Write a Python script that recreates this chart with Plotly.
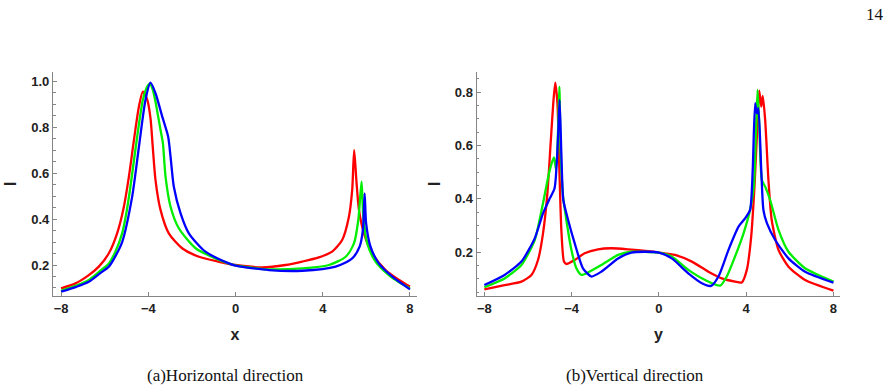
import plotly.graph_objects as go

# ---------------- data: (a) horizontal direction ----------------
h_red_x = [-8, -7.34, -6.73, -6.27, -5.81, -5.43, -5.12, -4.89, -4.66, -4.43, -4.25, -4.05, -3.9, -3.8, -3.67,
           -3.44, -3.06, -2.45, -1.68, -0.8, 0, 1.22, 2.29, 3.06, 3.82, 4.43, 4.89, 5.2, 5.35, 5.44, 5.54, 5.66,
           5.89, 6.27, 6.88, 7.5, 8]
h_red_I = [0.098, 0.12, 0.156, 0.193, 0.251, 0.338, 0.454, 0.585, 0.744, 0.89, 0.955, 0.92, 0.84, 0.72, 0.57,
           0.44, 0.338, 0.273, 0.236, 0.215, 0.2, 0.19, 0.2, 0.215, 0.233, 0.258, 0.309, 0.41, 0.527, 0.70, 0.57,
           0.44, 0.338, 0.251, 0.178, 0.135, 0.106]

h_green_x = [-8, -7.3, -6.73, -6.2, -5.81, -5.5, -5.2, -5.0, -4.82, -4.51, -4.25, -4.05, -3.93, -3.8, -3.67,
             -3.44, -3.33, -3.21, -2.98, -2.6, -1.83, -0.92, 0, 0.8, 1.53, 3.06, 4.28, 5.05, 5.43, 5.63, 5.78,
             5.86, 6.04, 6.42, 7.03, 7.5, 8]
h_green_I = [0.088, 0.11, 0.135, 0.175, 0.207, 0.26, 0.338, 0.43, 0.541, 0.759, 0.919, 0.977, 0.99, 0.965, 0.911,
             0.788, 0.73, 0.585, 0.454, 0.36, 0.273, 0.229, 0.198, 0.188, 0.181, 0.185, 0.2, 0.236, 0.294, 0.396,
             0.563, 0.41, 0.294, 0.215, 0.156, 0.125, 0.098]

h_blue_x = [-8, -7.3, -6.73, -6.2, -5.81, -5.5, -5.2, -4.74, -4.43, -4.13, -3.9, -3.67, -3.36, -3.09, -2.98,
            -2.83, -2.52, -2.14, -1.38, -0.31, 0, 1.53, 3.06, 4.59, 5.35, 5.69, 5.84, 5.92, 5.99, 6.19, 6.57,
            7.19, 8]
h_blue_I = [0.084, 0.105, 0.127, 0.165, 0.193, 0.24, 0.3, 0.498, 0.715, 0.919, 0.994, 0.948, 0.846, 0.759, 0.672,
            0.541, 0.425, 0.338, 0.258, 0.207, 0.197, 0.178, 0.175, 0.193, 0.229, 0.28, 0.352, 0.512, 0.38, 0.28,
            0.207, 0.149, 0.094]

# ---------------- data: (b) vertical direction ----------------
v_red_x = [-8, -7.07, -6.3, -5.84, -5.54, -5.31, -5.11, -4.96, -4.84, -4.75, -4.65, -4.56, -4.47, -4.35, -4.24,
           -3.86, -3.4, -2.79, -2.18, -1.41, -0.5, 0, 0.74, 1.51, 2.27, 2.88, 3.49, 3.8, 4.03, 4.23, 4.38, 4.49,
           4.6, 4.69, 4.76, 4.87, 5.02, 5.17, 5.48, 5.94, 6.7, 8]
v_red_I = [0.061, 0.077, 0.09, 0.115, 0.171, 0.271, 0.421, 0.609, 0.759, 0.836, 0.759, 0.509, 0.284, 0.165, 0.156,
           0.171, 0.196, 0.211, 0.215, 0.211, 0.204, 0.199, 0.19, 0.165, 0.127, 0.102, 0.09, 0.087, 0.134, 0.259,
           0.446, 0.634, 0.806, 0.746, 0.786, 0.696, 0.471, 0.321, 0.209, 0.146, 0.096, 0.056]

v_green_x = [-8, -7.07, -6.3, -5.69, -5.31, -5.0, -4.81, -4.71, -4.62, -4.56, -4.5, -4.39, -4.24, -4.01, -3.78,
             -3.55, -3.25, -2.64, -1.87, -1.26, -0.5, 0, 0.59, 1.35, 2.12, 2.81, 3.11, 3.49, 3.88, 4.18, 4.35,
             4.44, 4.52, 4.59, 4.72, 4.87, 5.1, 5.48, 5.94, 6.7, 8]
v_green_I = [0.069, 0.102, 0.152, 0.246, 0.384, 0.509, 0.556, 0.509, 0.659, 0.821, 0.571, 0.409, 0.321, 0.209, 0.14,
             0.115, 0.124, 0.152, 0.19, 0.202, 0.201, 0.199, 0.184, 0.134, 0.096, 0.075, 0.109, 0.184, 0.271, 0.359,
             0.446, 0.634, 0.809, 0.696, 0.471, 0.446, 0.396, 0.284, 0.202, 0.14, 0.09]

v_blue_x = [-8, -7.07, -6.3, -5.69, -5.31, -5.0, -4.78, -4.62, -4.55, -4.47, -4.38, -4.16, -3.86, -3.48, -3.09,
            -2.64, -1.87, -1.26, -0.65, 0, 0.59, 1.35, 1.97, 2.39, 2.73, 3.19, 3.65, 3.95, 4.18, 4.3, 4.41, 4.49,
            4.56, 4.69, 4.79, 4.95, 5.33, 5.94, 6.7, 8]
v_blue_I = [0.077, 0.115, 0.165, 0.252, 0.346, 0.402, 0.44, 0.634, 0.771, 0.571, 0.396, 0.321, 0.234, 0.14, 0.109,
            0.127, 0.177, 0.199, 0.202, 0.199, 0.177, 0.121, 0.084, 0.074, 0.109, 0.209, 0.296, 0.327, 0.359, 0.509,
            0.759, 0.721, 0.74, 0.509, 0.359, 0.309, 0.246, 0.177, 0.127, 0.086]

x_ticks = [-8, -4, 0, 4, 8]
captions = ["(a)Horizontal direction", "(b)Vertical direction"]
page_number = "14"

RED, GREEN, BLUE = "#ff0000", "#00ee00", "#0000ff"
AXIS = "#858585"
LW = 2.3

fig = go.Figure()
for xs, ys, c in [(h_red_x, h_red_I, RED), (h_green_x, h_green_I, GREEN), (h_blue_x, h_blue_I, BLUE)]:
    fig.add_trace(go.Scatter(x=xs, y=ys, mode="lines",
                             line=dict(color=c, width=LW, shape="spline", smoothing=0.7),
                             xaxis="x", yaxis="y", showlegend=False))
for xs, ys, c in [(v_red_x, v_red_I, RED), (v_green_x, v_green_I, GREEN), (v_blue_x, v_blue_I, BLUE)]:
    fig.add_trace(go.Scatter(x=xs, y=ys, mode="lines",
                             line=dict(color=c, width=LW, shape="spline", smoothing=0.6),
                             xaxis="x2", yaxis="y2", showlegend=False))

tickfont = dict(family="Liberation Sans, Arial, sans-serif", size=13, color="#222222")
titlefont = dict(family="Liberation Sans, Arial, sans-serif", size=16, color="#222222")

def xax(domain, title):
    return dict(domain=domain, range=[-8.37, 8.32], showline=True, linecolor=AXIS, linewidth=1.3,
                ticks="inside", ticklen=4, tickcolor=AXIS, tickwidth=1, tickvals=x_ticks,
                ticktext=[("\u22128" if v == -8 else "\u22124" if v == -4 else str(v)) for v in x_ticks],
                tickfont=dict(tickfont, weight="bold"), showgrid=False, zeroline=False,
                title=dict(text=f"<b>{title}</b>", font=titlefont, standoff=14))

def yax(domain, rng, anchor):
    return dict(domain=domain, range=rng, anchor=anchor, showline=True, linecolor=AXIS, linewidth=1.3,
                ticks="inside", ticklen=4, tickcolor=AXIS, tickwidth=1, tick0=0, dtick=0.2, tickformat=".1f",
                minor=dict(ticks="inside", ticklen=2.5, tickcolor=AXIS, dtick=0.05, tick0=0),
                tickfont=dict(tickfont, weight="bold"), showgrid=False, zeroline=False,
                title=dict(text="<b>I</b>", font=titlefont, standoff=10))

ydom = [0.241, 0.8162]
fig.update_layout(
    width=894, height=390, margin=dict(l=0, r=0, t=0, b=0),
    paper_bgcolor="white", plot_bgcolor="white",
    xaxis=dict(xax([0.0593, 0.4664], "x"), anchor="y"),
    yaxis=yax(ydom, [0.065, 1.042], "x"),
    xaxis2=dict(xax([0.5332, 0.9396], "y"), anchor="y2", range=[-8.35, 8.3]),
    yaxis2=yax(ydom, [0.036, 0.877], "x2"),
)

serif = dict(family="Liberation Serif, DejaVu Serif, serif", size=17, color="#111111")
fig.add_annotation(text=captions[0], x=225 / 894, y=1 - 375 / 390, xref="paper", yref="paper",
                   showarrow=False, font=serif, xanchor="center", yanchor="middle")
fig.add_annotation(text=captions[1], x=635 / 894, y=1 - 375 / 390, xref="paper", yref="paper",
                   showarrow=False, font=serif, xanchor="center", yanchor="middle")
fig.add_annotation(text=page_number, x=886 / 894, y=1 - 15 / 390, xref="paper", yref="paper",
                   showarrow=False, font=serif, xanchor="right", yanchor="middle")

fig.write_html("out.html")
